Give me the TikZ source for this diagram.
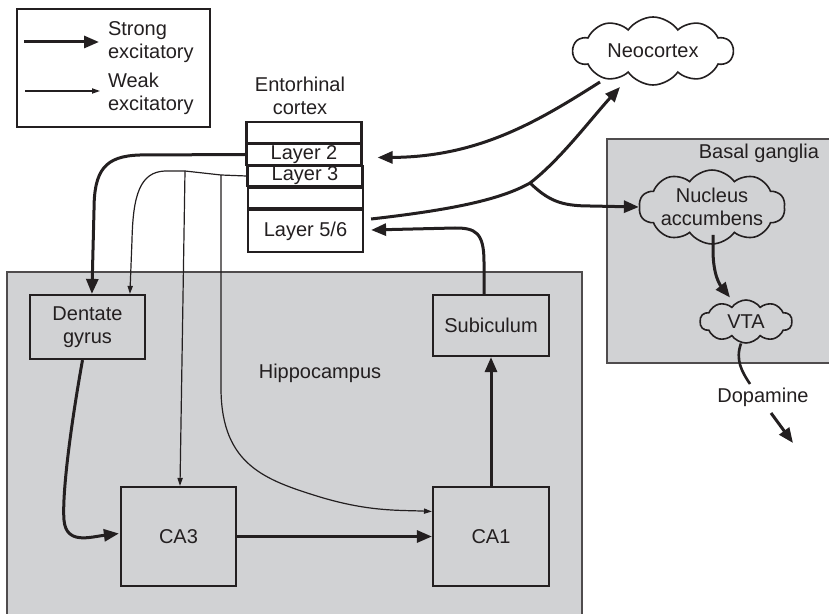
\documentclass[tikz,border=0pt]{standalone}
\usepackage{fontspec}
\setmainfont{Liberation Sans}
\usepackage{tikz}
\usetikzlibrary{shapes,arrows.meta,positioning,calc}
\definecolor{regiongray}{RGB}{209,210,212}
\definecolor{inkgray}{RGB}{35,31,32}

\begin{document}
\begin{tikzpicture}[x=0.5pt,y=-0.5pt,
    every node/.style={text=inkgray,font=\fontsize{10}{11.5}\selectfont},
    region/.style={draw=inkgray!80,line width=0.6pt,fill=regiongray},
    box/.style={draw=inkgray,line width=1.1pt,inner sep=0pt,align=center},
    layerbox/.style={draw=inkgray,line width=1.1pt,fill=white,inner sep=0pt,minimum width=57.5pt},
    blob/.style={cloud,cloud puffs=10,cloud puff arc=110,cloud ignores aspect,draw=inkgray,line width=0.8pt,inner sep=0pt,align=center},
    strong/.style={draw=inkgray,line width=1.5pt,-{Triangle[length=7.5pt,width=6pt]}},
    weak/.style={draw=inkgray,line width=0.6pt,-{Triangle[length=4pt,width=2.6pt]}},
    plainline/.style={draw=inkgray,line width=1.3pt}
  ]
  \useasboundingbox (0,0) rectangle (829,614);

  % regions
  \draw[region] (7,272) rectangle (582,630);
  \draw[region] (607,139) rectangle (840,363);
  \node[anchor=east] (bglabel) at (826,153) {Basal ganglia};
  \node (hiplabel) at (320,373) {Hippocampus};

  % legend
  \node[draw=inkgray,line width=0.8pt,minimum width=96.5pt,minimum height=59pt] (legend) at (113.5,68) {};
  \coordinate (sa) at (24,42);
  \coordinate (sb) at (99,42);
  \coordinate (wa) at (25,91);
  \coordinate (wb) at (100,91);
  \draw[strong] (sa) -- (sb);
  \draw[weak] (wa) -- (wb);
  \node[anchor=west,align=left] (strongtxt) at (101,42) {Strong\\excitatory};
  \node[anchor=west,align=left] (weaktxt) at (101,94) {Weak\\excitatory};

  % entorhinal cortex
  \node[align=center] (ectitle) at (300,96) {Entorhinal\\cortex};
  \node[layerbox,minimum height=10.5pt] (l1) at (304,132.5) {};
  \node[layerbox,minimum height=10.5pt] (l2) at (304,154.5) {Layer 2};
  \node[layerbox,minimum height=10pt] (l3) at (305,176) {Layer 3};
  \node[layerbox,minimum height=10pt] (l4) at (305.5,198) {};
  \node[layerbox,minimum height=21pt] (l56) at (305.5,231) {Layer 5/6};

  % hippocampus
  \node[box,minimum width=57.5pt,minimum height=32pt] (dg) at (87.5,327) {Dentate\\gyrus};
  \node[box,minimum width=57.5pt,minimum height=49.5pt] (ca3) at (178.5,536.5) {CA3};
  \node[box,minimum width=58pt,minimum height=49.5pt] (ca1) at (491,536.5) {CA1};
  \node[box,minimum width=58pt,minimum height=30.5pt] (sub) at (491,325.5) {Subiculum};

  % clouds
  \node[blob,fill=white,minimum width=80pt,minimum height=34pt] (neo) at (653,51) {Neocortex};
  \node[blob,fill=regiongray,minimum width=63pt,minimum height=28.5pt] (nacc) at (712,207) {Nucleus\\accumbens};
  \node[blob,fill=regiongray,minimum width=46pt,minimum height=21.5pt] (vta) at (746,321.5) {VTA};
  \node (dopa) at (763,397) {Dopamine};

  % connectors
  \coordinate (b1) at (221,175);
  \coordinate (b2) at (185,171);
  \coordinate (br) at (530,183);
  \draw[strong] (l2.west) -- (140,155) .. controls (105,156) and (94,170) .. (94,210) -- ($(dg.north west)+(63,0)$);
  \draw[weak] (l3.west) -- (b1) -- (b2) -- (165,171) .. controls (140,172) and (133,195) .. (132,240) -- ($(dg.north west)+(101,0)$);
  \draw[weak] (b2) -- ($(ca3.north)+(1.5,0)$);
  \draw[weak] (b1) -- (221,390) .. controls (222,465) and (265,480) .. (320,497) .. controls (370,512) and (400,510) .. ($(ca1.west)+(0,-25)$);
  \draw[strong] ($(dg.south)+(-5,0)$) .. controls (70,430) and (62,495) .. (64,520) .. controls (66,545) and (90,537) .. ($(ca3.west)+(-1,-3)$);
  \draw[strong] (ca3.east) -- (ca1.west);
  \draw[strong] (ca1.north) -- (sub.south);
  \draw[strong] ($(sub.north)+(-7,0)$) -- (484,262) .. controls (484,232) and (475,228) .. (455,228) -- ($(l56.east)+(7,-1)$);
  \draw[strong] ($(l56.east)+(7,-12)$) .. controls (450,210) and (500,200) .. (br) .. controls (560,160) and (590,120) .. ($(neo)+(-33,36)$);
  \draw[strong] (br) .. controls (548,200) and (560,206) .. (590,206) -- (nacc.west);
  \draw[strong] ($(neo)+(-53,31)$) .. controls (540,120) and (480,157) .. ($(l2.east)+(15,3)$);
  \draw[strong] ($(nacc)+(1,28)$) -- (713,250) .. controls (713,275) and (720,285) .. ($(vta)+(-16,-24)$);
  \draw[plainline] ($(vta)+(-5,22)$) .. controls (735,360) and (742,372) .. ($(dopa)+(-13,-13)$);
  \draw[strong] ($(dopa)+(8,16)$) -- ($(dopa)+(30,46)$);
\end{tikzpicture}
\end{document}
